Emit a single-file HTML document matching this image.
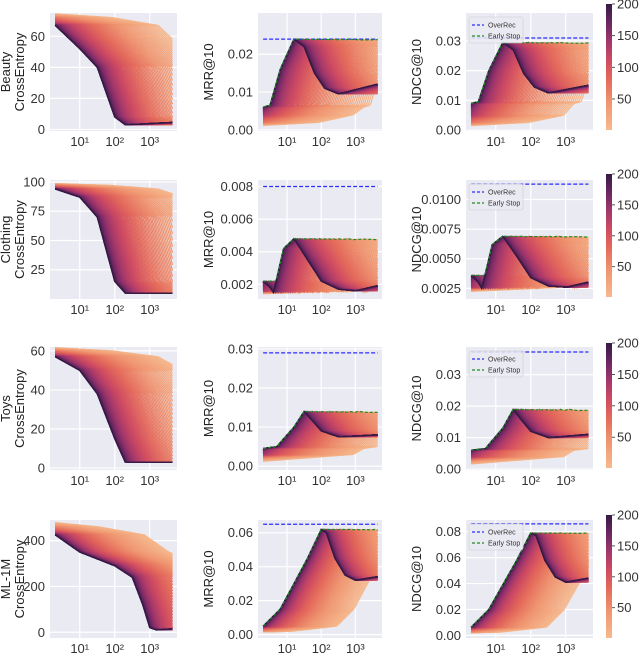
<!DOCTYPE html>
<html><head><meta charset="utf-8"><style>
html,body{margin:0;padding:0;background:#fff;}
svg{display:block;font-family:"Liberation Sans","DejaVu Sans",sans-serif;}
</style></head><body>
<svg id="fig" width="640" height="657" viewBox="0 0 640 657"></svg>
<script>
// ---- data (base curve of darkest run: [log10 step, value]) ----
const runIds = [];
for (let k = 2; k <= 200; k += 2) runIds.push(k);
const xTickLogs = [1, 2, 3];
const xTickLabels = ["10¹", "10²", "10³"];
const cbarTicks = [50, 100, 150, 200];

const beautyLoss = [[-3,75],[-1,72],[0.3,67],[1.0,52],[1.5,40],[2.0,8],[2.3,3],[3.6,4.5]];
const beautyMRR = [[-3,0.001],[-1,0.002],[0,0.004],[0.3,0.006],[0.5,0.0065],[0.8,0.016],[1.2,0.024],[1.5,0.022],[1.8,0.015],[2.1,0.011],[2.5,0.0095],[3.6,0.012]];
const beautyNDCG = [[-3,0.0013],[-1,0.0026],[0,0.005],[0.3,0.009],[0.5,0.0095],[0.8,0.02],[1.2,0.0295],[1.5,0.027],[1.8,0.019],[2.1,0.0145],[2.5,0.0125],[3.6,0.015]];
const clothLoss = [[-3,99],[-1,97],[0.3,94],[1.0,87],[1.5,70],[2.0,15],[2.3,5],[3.6,5]];
const clothMRR = [[-3,0.0014],[0,0.0016],[0.3,0.0022],[0.5,0.0018],[0.6,0.0015],[0.9,0.0042],[1.2,0.0048],[1.6,0.0035],[2.0,0.0022],[2.5,0.0017],[3.0,0.0016],[3.6,0.0019]];
const clothNDCG = [[-3,0.0022],[0,0.0026],[0.3,0.0036],[0.5,0.003],[0.6,0.0025],[0.9,0.0062],[1.2,0.0069],[1.6,0.0052],[2.0,0.0034],[2.5,0.0027],[3.0,0.0026],[3.6,0.003]];
const toysLoss = [[-3,62],[-1,60],[0.3,57],[1.0,50],[1.5,38],[2.0,15],[2.3,3],[3.6,3]];
const toysMRR = [[-3,0.001],[0,0.003],[0.3,0.0045],[0.7,0.005],[1.2,0.01],[1.5,0.014],[1.7,0.012],[2.0,0.009],[2.5,0.0075],[3.6,0.008]];
const toysNDCG = [[-3,0.0013],[0,0.004],[0.3,0.006],[0.7,0.0065],[1.2,0.013],[1.5,0.019],[1.7,0.016],[2.0,0.012],[2.5,0.01],[3.6,0.011]];
const mlLoss = [[-3,490],[-1,460],[0.3,425],[1.0,350],[1.5,320],[2.0,290],[2.5,240],[2.8,120],[3.0,20],[3.2,10],[3.6,15]];
const mlMRR = [[-3,0.001],[-1,0.002],[0.3,0.005],[0.8,0.015],[1.2,0.03],[1.6,0.045],[2.0,0.062],[2.15,0.06],[2.4,0.045],[2.7,0.035],[3.0,0.032],[3.6,0.034]];
const mlNDCG = [[-3,0.0013],[-1,0.0026],[0.3,0.0065],[0.8,0.02],[1.2,0.039],[1.6,0.058],[2.0,0.079],[2.15,0.077],[2.4,0.058],[2.7,0.045],[3.0,0.041],[3.6,0.044]];
const overRec = { bMRR: 0.024, bNDCG: 0.031, cMRR: 0.008, cNDCG: 0.0113, tMRR: 0.029, tNDCG: 0.0372, mMRR: 0.065, mNDCG: 0.086 };

// ---- layout ----
const NS = "http://www.w3.org/2000/svg";
const svg = document.getElementById("fig");
function mk(tag, attrs, parent) {
  const e = document.createElementNS(NS, tag);
  for (const a in attrs) e.setAttribute(a, attrs[a]);
  (parent || svg).appendChild(e);
  return e;
}
const defs = mk("defs", {});
const cstops = [[0,"#f6b98d"],[0.22,"#ef9570"],[0.4,"#e46a5b"],[0.55,"#cf4b62"],[0.7,"#a2376c"],[0.84,"#6e2863"],[1,"#361a45"]];
function hex(h){return [parseInt(h.slice(1,3),16),parseInt(h.slice(3,5),16),parseInt(h.slice(5,7),16)];}
function cmap(t){
  for (let i=1;i<cstops.length;i++){ if (t<=cstops[i][0]){ const a=cstops[i-1],b=cstops[i]; const f=(t-a[0])/(b[0]-a[0]); const A=hex(a[1]),B=hex(b[1]); return "rgb("+A.map((v,j)=>Math.round(v+(B[j]-v)*f)).join(",")+")"; } }
  return cstops[cstops.length-1][1];
}
const grad = mk("linearGradient", {id:"cb", x1:0, y1:1, x2:0, y2:0}, defs);
cstops.forEach(s => mk("stop", {offset: s[0], "stop-color": s[1]}, grad));

function baseVal(curve, t){
  if (t<=curve[0][0]) return curve[0][1];
  for (let i=1;i<curve.length;i++){ if (t<=curve[i][0]){ const a=curve[i-1],b=curve[i]; return a[1]+(b[1]-a[1])*(t-a[0])/(b[0]-a[0]); } }
  return curve[curve.length-1][1];
}
const rowNames = ["Beauty","Clothing","Toys","ML-1M"];
const rows = [
  {top:13, bot:131, cb:[4,130]},
  {top:180, bot:299, cb:[174,297]},
  {top:347, bot:470, cb:[343,468]},
  {top:520, bot:638, cb:[515,638]}
];
const cols = [[50,177],[258,382],[466,593]];
const panels = [
  {r:0,c:0,data:beautyLoss,y0:-1,y1:75,ticks:[0,20,40,60],fmt:0,S:3,title:["Beauty","CrossEntropy"]},
  {r:0,c:1,data:beautyMRR,y0:-0.0003,y1:0.0309,ticks:[0,0.01,0.02],fmt:2,S:3,h:overRec.bMRR,title:["MRR@10"]},
  {r:0,c:2,data:beautyNDCG,y0:-0.0003,y1:0.0394,ticks:[0,0.01,0.02,0.03],fmt:2,S:3,h:overRec.bNDCG,title:["NDCG@10"],leg:true},
  {r:1,c:0,data:clothLoss,y0:0,y1:101.7,ticks:[25,50,75,100],fmt:0,S:3,title:["Clothing","CrossEntropy"]},
  {r:1,c:1,data:clothMRR,y0:0.0011,y1:0.0084,ticks:[0.002,0.004,0.006,0.008],fmt:3,S:3,h:overRec.cMRR,title:["MRR@10"]},
  {r:1,c:2,data:clothNDCG,y0:0.0016,y1:0.01165,ticks:[0.0025,0.005,0.0075,0.01],fmt:4,S:3,h:overRec.cNDCG,title:["NDCG@10"],leg:true},
  {r:2,c:0,data:toysLoss,y0:-1,y1:62,ticks:[0,20,40,60],fmt:0,S:3,title:["Toys","CrossEntropy"]},
  {r:2,c:1,data:toysMRR,y0:-0.001,y1:0.0305,ticks:[0,0.01,0.02,0.03],fmt:2,S:3,h:overRec.tMRR,title:["MRR@10"]},
  {r:2,c:2,data:toysNDCG,y0:-0.0003,y1:0.0388,ticks:[0,0.01,0.02,0.03],fmt:2,S:3,h:overRec.tNDCG,title:["NDCG@10"],leg:true},
  {r:3,c:0,data:mlLoss,y0:-25,y1:490,ticks:[0,200,400],fmt:0,S:2.6,title:["ML-1M","CrossEntropy"]},
  {r:3,c:1,data:mlMRR,y0:-0.002,y1:0.0675,ticks:[0,0.02,0.04,0.06],fmt:2,S:2.2,h:overRec.mMRR,title:["MRR@10"]},
  {r:3,c:2,data:mlNDCG,y0:-0.002,y1:0.089,ticks:[0,0.02,0.04,0.06,0.08],fmt:2,S:2.2,h:overRec.mNDCG,title:["NDCG@10"],leg:true}
];
const tGrid = [];
for (let t=0.3;t<=3.651;t+=0.05) tGrid.push(t);

panels.forEach((p,pi)=>{
  const R=rows[p.r], C=cols[p.c];
  const g = mk("g",{});
  
  
  const X = t => C[0] + (t-0.15)/(3.78-0.15)*(C[1]-C[0]);
  const Y = v => R.bot - (v-p.y0)/(p.y1-p.y0)*(R.bot-R.top);
  const bg = mk("rect",{x:C[0],y:R.top,width:C[1]-C[0],height:R.bot-R.top,fill:"#eaeaf2"},g);
   
  const clipId="clip"+pi;
  const cp = mk("clipPath",{id:clipId},defs);
  mk("rect",{x:C[0],y:R.top,width:C[1]-C[0],height:R.bot-R.top},cp);
  p.ticks.forEach(v=>{
    const y=Y(v);
    const gl=mk("line",{x1:C[0],x2:C[1],y1:y,y2:y,stroke:"#fff","stroke-width":1.2},g);
     
    const tx=mk("text",{x:C[0]-5,y:y+4.5,"text-anchor":"end","font-size":13,fill:"#333"},g);
    tx.textContent = p.fmt===0? String(v) : v.toFixed(p.fmt);
     
  });
  xTickLogs.forEach((lt,i)=>{
    const x=X(lt);
    const gl=mk("line",{x1:x,x2:x,y1:R.top,y2:R.bot,stroke:"#fff","stroke-width":1.2},g);
     
    const tx=mk("text",{x:x,y:R.bot+15,"text-anchor":"middle","font-size":13,fill:"#333"},g);
    tx.textContent = xTickLabels[i];
     
  });
  const lg = mk("g",{"clip-path":"url(#"+clipId+")"},g);
  const env = tGrid.map(()=>-Infinity);
  runIds.forEach(k=>{
    const u = 1-k/200;
    const s = p.S*u*u;
    const vals = tGrid.map(t=>baseVal(p.data,t-s));
    vals.forEach((v,i)=>{ if(v>env[i]) env[i]=v; });
    const d = vals.map((v,i)=>(i?"L":"M")+X(tGrid[i]).toFixed(1)+","+Y(v).toFixed(1)).join("");
    const ln = mk("path",{d:d,fill:"none",stroke:cmap(k/200),"stroke-width":1.2},lg);
     
  });
  if (p.h!==undefined){
    const hl = mk("line",{x1:X(0.3),x2:X(3.65),y1:Y(p.h),y2:Y(p.h),stroke:"#2a2aff","stroke-width":1.3,"stroke-dasharray":"4,2"},g);
     
    const d = env.map((v,i)=>(i?"L":"M")+X(tGrid[i]).toFixed(1)+","+Y(v).toFixed(1)).join("");
    const el = mk("path",{d:d,fill:"none",stroke:"#1e8c1e","stroke-width":1.2,"stroke-dasharray":"3,2"},g);
     
  }
  // title
  p.title.forEach((tt,i)=>{
    const x = p.title.length===2 ? [10,24][i] : C[0]-45;
    const ym=(R.top+R.bot)/2;
    const tx=mk("text",{x:x,y:ym,"text-anchor":"middle","font-size":13,fill:"#222",transform:"rotate(-90 "+x+" "+ym+")"},g);
    tx.textContent=tt;
     
  });
  if (p.leg){
    const L = mk("g",{},g);
     
    const lx=C[0]+3, ly=R.top+4;
    mk("rect",{x:lx,y:ly,width:54,height:26,fill:"#eaeaf2","fill-opacity":0.85,stroke:"#ccc","stroke-width":0.6,rx:2},L);
    [["OverRec","#2a2aff"],["Early Stop","#1e8c1e"]].forEach((e,i)=>{
      const y=ly+8+i*11;
      const ent=mk("g",{},L);
       
      mk("line",{x1:lx+3,x2:lx+15,y1:y,y2:y,stroke:e[1],"stroke-width":1.3,"stroke-dasharray":"3,2"},ent);
      const tx=mk("text",{x:lx+19,y:y+2.5,"font-size":7,fill:"#333"},ent);
      tx.textContent=e[0];
    });
  }
});
// colorbars
rows.forEach((R,ri)=>{
  const g=mk("g",{});
   
  const y0=R.cb[0], y1=R.cb[1];
  mk("rect",{x:606,y:y0,width:6,height:y1-y0,fill:"url(#cb)"},g);
  cbarTicks.forEach(v=>{
    const y = y1 - (v-1)/199*(y1-y0);
    mk("line",{x1:612,x2:615,y1:y,y2:y,stroke:"#333","stroke-width":0.8},g);
    const tx=mk("text",{x:617,y:y+4.5,"font-size":13,fill:"#333"},g);
    tx.textContent=String(v);
     
  });
});
</script>
</body></html>
